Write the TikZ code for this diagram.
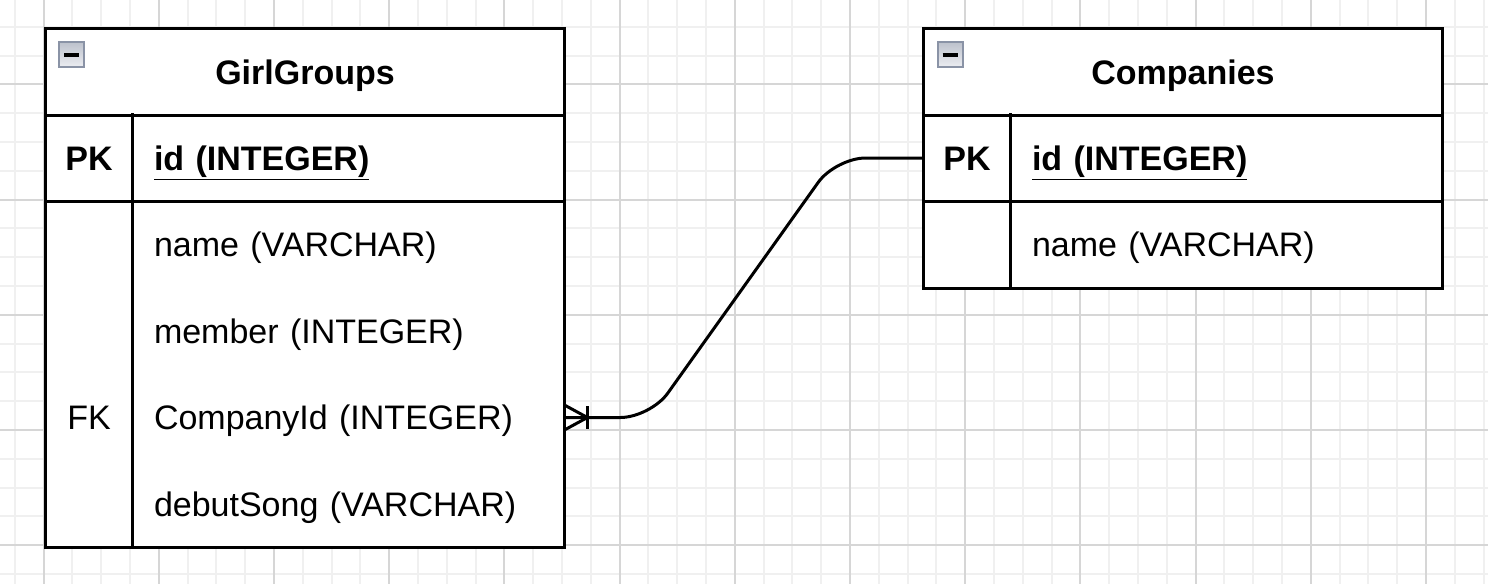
\documentclass[tikz,border=0pt]{standalone}
\usepackage{fontspec}
\setmainfont{Liberation Sans}
\usepackage{tikz}
\usetikzlibrary{positioning}
\usepackage{xcolor}
\definecolor{gridlight}{RGB}{240,240,240}
\definecolor{griddark}{RGB}{214,214,214}
\definecolor{iconborder}{RGB}{138,147,166}
\definecolor{icontop}{RGB}{188,193,204}
\definecolor{iconbottom}{RGB}{236,237,241}
\newcommand{\erfont}{\fontsize{17}{20}\selectfont}
\pgfdeclarelayer{background}
\pgfsetlayers{background,main}
\tikzset{
    gridminor/.style={draw=gridlight, line width=1pt},
    gridmajor/.style={draw=griddark, line width=1pt},
    tablehead/.style={rectangle, minimum width=259pt, minimum height=43pt, inner sep=0pt, text height=14pt, text depth=2pt, font=\erfont\bfseries},
    keycell/.style={rectangle, minimum width=43pt, minimum height=43.25pt, inner sep=0pt, text height=14pt, text depth=2pt},
    fieldcell/.style={rectangle, minimum height=43.25pt, text width=194pt, inner xsep=11pt, inner ysep=0pt, text height=14pt, text depth=2pt, align=left},
    keytext/.style={font=\erfont\bfseries},
    toggle/.style={rectangle, minimum size=12.5pt, inner sep=0pt, draw=iconborder, line width=1pt, top color=icontop, bottom color=iconbottom},
    erline/.style={line width=1.5pt, line cap=rect},
    tableframe/.style={line width=1.5pt, fill=white}
}

\begin{document}
\begin{tikzpicture}[x=0.5pt, y=-0.5pt, font=\erfont]

\useasboundingbox (0,0) rectangle (1488,584);

% Background grid
\begin{pgfonlayer}{background}
\fill[white] (0,0) rectangle (1488,584);
\foreach \i in {-1,...,50} {
    \draw[gridminor] ({43.5+28.8*\i},0) -- ({43.5+28.8*\i},584);
}
\foreach \i in {-3,...,18} {
    \draw[gridminor] (0,{84.3+28.8*\i}) -- (1488,{84.3+28.8*\i});
}
\foreach \i in {0,...,12} {
    \draw[gridmajor] ({43.5+115.2*\i},0) -- ({43.5+115.2*\i},584);
}
\foreach \i in {-1,...,4} {
    \draw[gridmajor] (0,{84.3+115.2*\i}) -- (1488,{84.3+115.2*\i});
}
\end{pgfonlayer}

% GirlGroups table
\node[tablehead] (gg-head) at (305,72) {GirlGroups};
\node[keycell, keytext] (gg-pk) at (89,158) {PK};
\node[fieldcell, keytext] (gg-id) at (348,158) {\underline{id (INTEGER)}};
\node[keycell] (gg-k1) at (89,244.5) {};
\node[fieldcell] (gg-name) at (348,244.5) {name (VARCHAR)};
\node[keycell] (gg-k2) at (89,331) {};
\node[fieldcell] (gg-member) at (348,331) {member (INTEGER)};
\node[keycell] (gg-fk) at (89,417.5) {FK};
\node[fieldcell] (gg-cid) at (348,417.5) {CompanyId (INTEGER)};
\node[keycell] (gg-k4) at (89,504) {};
\node[fieldcell] (gg-song) at (348,504) {debutSong (VARCHAR)};

% Companies table
\node[tablehead] (co-head) at (1183,72) {Companies};
\node[keycell, keytext] (co-pk) at (967,158) {PK};
\node[fieldcell, keytext] (co-id) at (1226,158) {\underline{id (INTEGER)}};
\node[keycell] (co-k1) at (967,244.5) {};
\node[fieldcell] (co-name) at (1226,244.5) {name (VARCHAR)};

% Frames
\begin{pgfonlayer}{background}
\draw[tableframe] (gg-head.north west) rectangle (gg-song.south east);
\draw[tableframe] (co-head.north west) rectangle (co-name.south east);
\end{pgfonlayer}
\draw[erline] (gg-head.south west) -- (gg-head.south east);
\draw[erline] (gg-pk.south west) -- (gg-id.south east);
\draw[erline] (gg-pk.north east) -- (gg-k4.south east);
\draw[erline] (co-head.south west) -- (co-head.south east);
\draw[erline] (co-pk.south west) -- (co-id.south east);
\draw[erline] (co-pk.north east) -- (co-k1.south east);

% Collapse icons
\node[toggle] (gg-toggle) at (71.5,54.5) {};
\draw[line width=2pt] ([xshift=-3.75pt]gg-toggle.center) -- ([xshift=3.75pt]gg-toggle.center);
\node[toggle] (co-toggle) at (950,54.5) {};
\draw[line width=2pt] ([xshift=-3.75pt]co-toggle.center) -- ([xshift=3.75pt]co-toggle.center);

% Relation CompanyId -> Companies.id
\draw[line width=1.5pt, rounded corners=15pt] (gg-cid.east) -- ([xshift=43pt]gg-cid.east) -- ([xshift=-44pt]co-pk.west) -- (co-pk.west);
\draw[line width=1.5pt] ([yshift=6.25pt]gg-cid.east) -- ([xshift=11.5pt]gg-cid.east) -- ([yshift=-6.25pt]gg-cid.east);
\draw[line width=1.5pt] ([xshift=11.5pt, yshift=5.75pt]gg-cid.east) -- ([xshift=11.5pt, yshift=-5.75pt]gg-cid.east);

\end{tikzpicture}
\end{document}
